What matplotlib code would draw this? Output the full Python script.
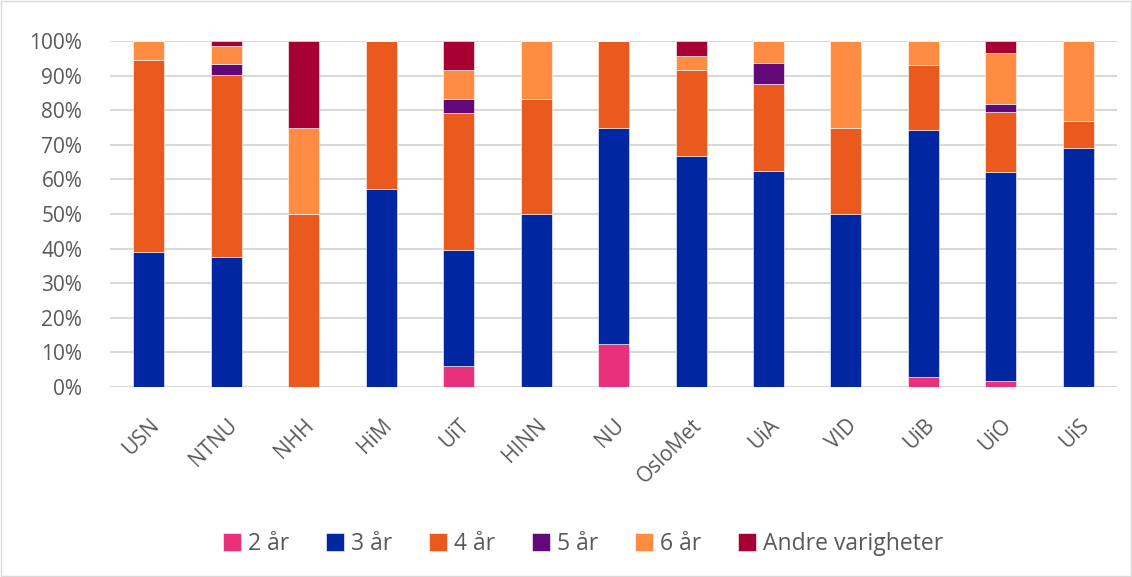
import numpy as np
import matplotlib.pyplot as plt
from matplotlib.patches import Rectangle

plt.rcParams['font.family'] = ['Open Sans', 'DejaVu Sans']

# institusjoner og andel (%) per varighet
schools = ["USN", "NTNU", "NHH", "HiM", "UiT", "HINN", "NU", "OsloMet", "UiA", "VID", "UiB", "UiO", "UiS"]
y2 = [0, 0, 0, 0, 6.2, 0, 12.5, 0, 0, 0, 2.8, 1.8, 0]
y3 = [38.9, 37.5, 0, 57.1, 33.3, 50.0, 62.5, 66.7, 62.5, 50.0, 71.5, 60.2, 69.2]
y4 = [55.5, 52.7, 50.0, 42.9, 39.6, 33.3, 25.0, 25.0, 25.0, 25.0, 18.7, 17.4, 7.7]
y5 = [0, 3.3, 0, 0, 4.2, 0, 0, 0, 6.25, 0, 0, 2.3, 0]
y6 = [5.6, 5.0, 25.0, 0, 8.4, 16.7, 0, 4.1, 6.25, 25.0, 7.0, 14.7, 23.1]
andre = [0, 1.5, 25.0, 0, 8.3, 0, 0, 4.2, 0, 0, 0, 3.6, 0]

series = [y2, y3, y4, y5, y6, andre]
labels = ["2 år", "3 år", "4 år", "5 år", "6 år", "Andre varigheter"]
colors = ["#E9307A", "#0026A2", "#EA5A1F", "#630879", "#FF8C42", "#A70033"]

fig = plt.figure(figsize=(11.32, 5.77), dpi=100)
ax = fig.add_axes([0.0972, 0.3293, 0.8896, 0.5996])

x = np.arange(len(schools))
bottom = np.zeros(len(schools))
for vals, lab, col in zip(series, labels, colors):
    vals = np.array(vals)
    ax.bar(x, vals, 0.4, bottom=bottom, color=col, label=lab,
           edgecolor="white", linewidth=0.4, zorder=3)
    bottom += vals

ax.set_xlim(-0.5, len(schools) - 0.5)
ax.set_ylim(0, 100)
ax.set_yticks(np.arange(0, 101, 10))
ax.set_yticklabels([f"{v}%" for v in range(0, 101, 10)])
ax.set_xticks(x)
ax.set_xticklabels(schools, rotation=45, ha="right", rotation_mode="anchor")
ax.tick_params(axis="both", length=0, labelsize=15, labelcolor="#595959")
ax.tick_params(axis="y", pad=20)
ax.tick_params(axis="x", pad=20)
ax.grid(axis="y", color="#d9d9d9", linewidth=1.5, zorder=0)
for s in ax.spines.values():
    s.set_visible(False)

fig.legend(loc="center", bbox_to_anchor=(0.515, 0.057), ncol=6, frameon=False,
           fontsize=16.5, labelcolor="#595959", handlelength=0.8, handleheight=0.8,
           handletextpad=0.3, columnspacing=1.6)

fig.patches.append(Rectangle((0.001, 0.001), 0.998, 0.998, transform=fig.transFigure,
                             fill=False, edgecolor="#d9d9d9", linewidth=1))

fig.savefig("out.png", dpi=100)
